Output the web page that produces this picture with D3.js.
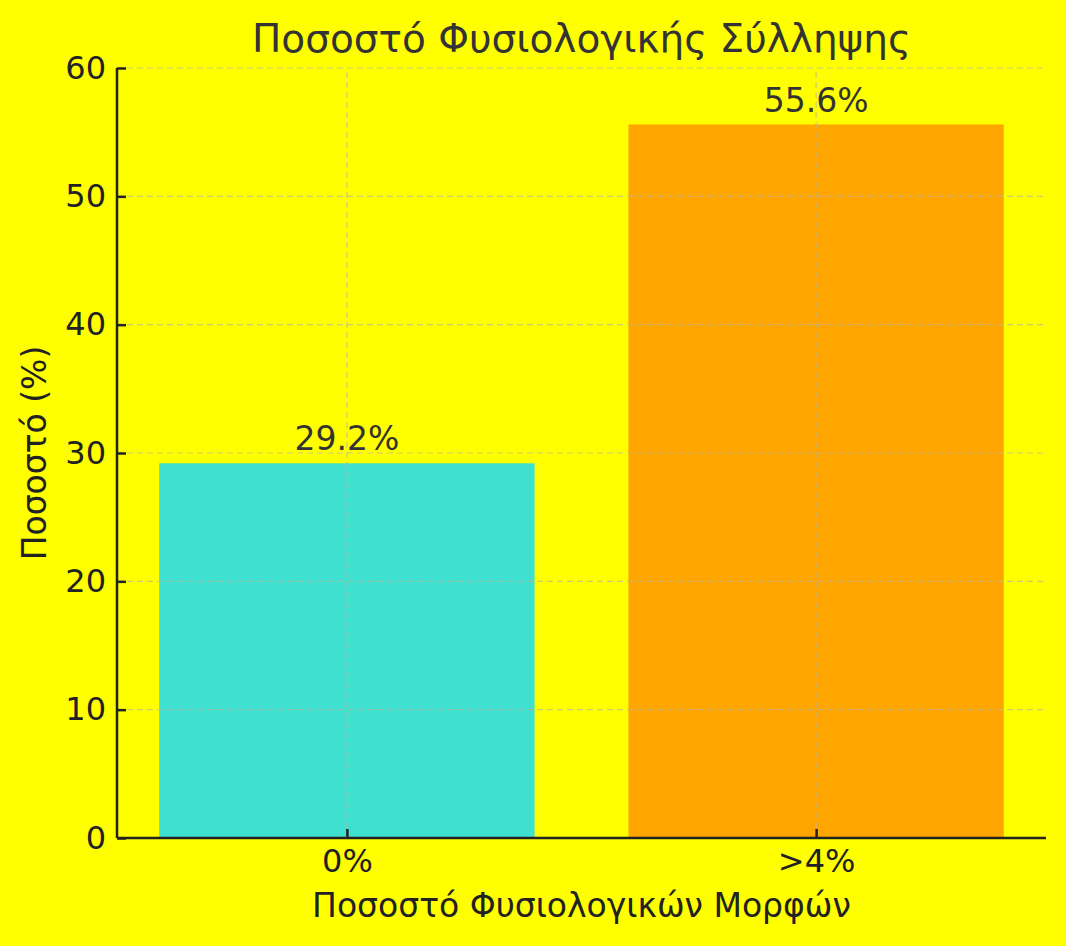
<!DOCTYPE html>
<html>
<head>
<meta charset="utf-8">
<script src="https://cdn.jsdelivr.net/npm/d3@7"></script>
<style>
html,body{margin:0;padding:0;background:#ffff00;}
svg{display:block;font-family:"DejaVu Sans",sans-serif;}
</style>
</head>
<body>
<script>
const categories = ["0%", ">4%"];
const values = [29.2, 55.6];
const colors = ["#40e0d0", "#ffa500"];
const yTicks = [0, 10, 20, 30, 40, 50, 60];
const title = "Ποσοστό Φυσιολογικής Σύλληψης";
const xLabel = "Ποσοστό Φυσιολογικών Μορφών";
const yLabel = "Ποσοστό (%)";

const W = 1066, H = 946;
const m = {left: 117, right: 20, top: 68, bottom: 108};
const svg = d3.select("body").append("svg").attr("width", W).attr("height", H);
svg.append("rect").attr("width", W).attr("height", H).attr("fill", "#ffff00");

const x = d3.scaleLinear().domain([-0.49, categories.length - 1 + 0.49]).range([m.left, W - m.right]);
const y = d3.scaleLinear().domain([0, 60]).range([H - m.bottom, m.top]);
const barW = x(0.8) - x(0);

// bars
svg.append("g").selectAll("rect").data(values).join("rect")
  .attr("x", (d, i) => x(i) - barW / 2)
  .attr("width", barW)
  .attr("y", d => y(d))
  .attr("height", d => y(0) - y(d))
  .attr("fill", (d, i) => colors[i]);

// grid
const grid = svg.append("g").attr("stroke", "#b8b8a0").attr("stroke-opacity", 0.7)
  .attr("stroke-width", 1.2).attr("stroke-dasharray", "6,4");
grid.selectAll("line.h").data(yTicks).join("line").attr("class", "h")
  .attr("x1", m.left).attr("x2", W - m.right).attr("y1", d => y(d)).attr("y2", d => y(d));
grid.selectAll("line.v").data(categories.map((c, i) => i)).join("line").attr("class", "v")
  .attr("y1", y(0)).attr("y2", m.top).attr("x1", d => x(d)).attr("x2", d => x(d));

// value labels
svg.append("g").selectAll("text").data(values).join("text")
  .attr("x", (d, i) => x(i)).attr("y", d => y(d + 1))
  .attr("text-anchor", "middle").attr("fill", "#333333")
  .style("font-size", "33px")
  .text(d => d.toFixed(1) + "%");

// axes
const xAxis = svg.append("g").attr("transform", `translate(0,${y(0)})`)
  .call(d3.axisBottom(x).tickValues(categories.map((c, i) => i)).tickFormat(i => categories[i])
    .tickSizeInner(-9).tickSizeOuter(0).tickPadding(11));
xAxis.select(".domain").attr("stroke", "#222").attr("stroke-width", 2.5)
  .attr("d", `M${m.left},0H${W - m.right}`);
xAxis.selectAll(".tick line").attr("stroke", "#222").attr("stroke-width", 2.5);
xAxis.selectAll(".tick text").attr("fill", "#222").style("font-size", "32px").style("font-family", "DejaVu Sans");

const yAxis = svg.append("g").attr("transform", `translate(${m.left},0)`)
  .call(d3.axisLeft(y).tickValues(yTicks).tickSizeInner(-9).tickSizeOuter(0).tickPadding(11));
yAxis.select(".domain").attr("stroke", "#222").attr("stroke-width", 2.5)
  .attr("d", `M0,${y(0)}V${m.top}`);
yAxis.selectAll(".tick line").attr("stroke", "#222").attr("stroke-width", 2.5);
yAxis.selectAll(".tick text").attr("fill", "#222").style("font-size", "32px").style("font-family", "DejaVu Sans");

// title & labels
svg.append("text").attr("x", (m.left + W - m.right) / 2).attr("y", 52)
  .attr("text-anchor", "middle").attr("fill", "#333").style("font-size", "39px").text(title);
svg.append("text").attr("x", (m.left + W - m.right) / 2).attr("y", 917)
  .attr("text-anchor", "middle").attr("fill", "#222").style("font-size", "33px").text(xLabel);
svg.append("text").attr("transform", `translate(46,${(m.top + y(0)) / 2}) rotate(-90)`)
  .attr("text-anchor", "middle").attr("fill", "#222").style("font-size", "33px").text(yLabel);
</script>
</body>
</html>
